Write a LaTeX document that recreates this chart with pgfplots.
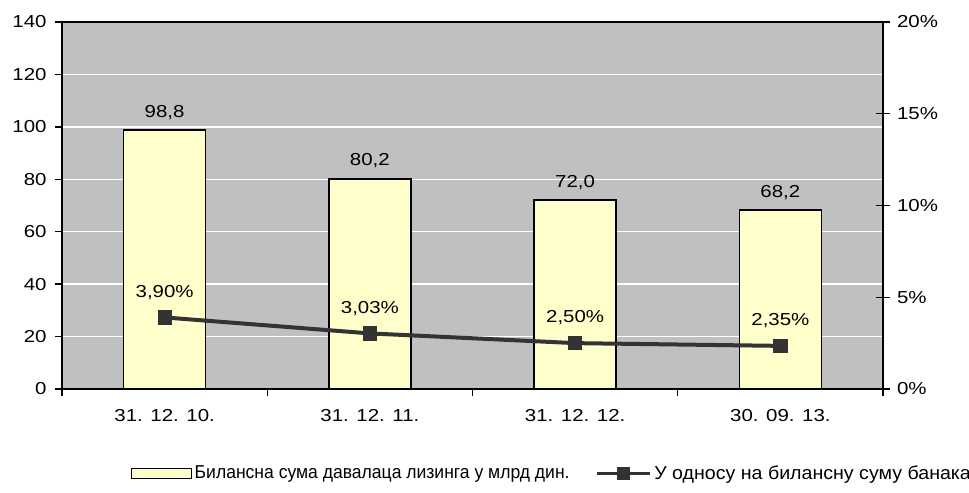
\documentclass[border=0pt]{standalone}
\usepackage{fontspec}
\setmainfont{Liberation Sans}
\newfontfamily\lblfont[FakeStretch=1.18]{Liberation Sans}
\newfontfamily\legfont[FakeStretch=0.94]{Liberation Sans}
\newfontfamily\legfontB[FakeStretch=1.05]{Liberation Sans}
\usepackage{pgfplots}
\pgfplotsset{compat=1.18}
\definecolor{bgc}{HTML}{C0C0C0}
\definecolor{barc}{HTML}{FFFFCC}
\definecolor{linec}{HTML}{333333}
\newcommand{\fs}{\lblfont\fontsize{13pt}{15pt}\selectfont}
\newcommand{\fl}{\legfont\fontsize{14pt}{16pt}\selectfont}
\begin{document}
\begin{tikzpicture}
\path[use as bounding box] (-46.5pt,-77.25pt) rectangle (680.25pt,291.75pt);
\begin{axis}[
  at={(0,0)}, anchor=south west,
  scale only axis, width=615.75pt, height=275.25pt,
  xmin=-0.5, xmax=3.5, ymin=0, ymax=140,
  ytick={0,20,...,140},
  ytick pos=left, xtick pos=bottom,
  tick align=outside,
  axis background/.style={fill=bgc},
  ymajorgrids, grid style={white, line width=1pt},
  axis line style={line width=1.4pt},
  major tick length=5pt,
  tick style={black, line width=1pt},
  xtick={0,1,2,3},
  xticklabels={31. 12. 10., 31. 12. 11., 31. 12. 12., 30. 09. 13.},
  major x tick style={draw=none},
  minor xtick={-0.5,0.5,1.5,2.5,3.5},
  minor tick length=5pt,
  minor x tick style={black, line width=1pt},
  font=\fs,
  ticklabel style={font=\fs},
  /pgf/number format/assume math mode=true,
  xticklabel style={yshift=-7pt},
  yticklabel style={xshift=-3pt},
]
\addplot[ybar, bar width=0.4, fill=barc, draw=black, line width=1.2pt,
  nodes near coords,
  nodes near coords style={font=\fs, black, yshift=4pt,
    /pgf/number format/.cd, fixed, fixed zerofill, precision=1, use comma, assume math mode=true}]
  coordinates {(0,98.8) (1,80.2) (2,72.0) (3,68.2)};
\end{axis}
\begin{axis}[
  at={(0,0)}, anchor=south west,
  scale only axis, width=615.75pt, height=275.25pt,
  xmin=-0.5, xmax=3.5, ymin=0, ymax=20,
  axis y line*=right, axis x line=none,
  ytick={0,5,10,15,20},
  yticklabel={\pgfmathprintnumber{\tick}\%},
  tick align=center,
  major tick length=10pt,
  tick style={black, line width=1pt},
  axis line style={line width=1.4pt},
  ticklabel style={font=\fs},
  /pgf/number format/assume math mode=true,
  yticklabel style={xshift=2pt},
  legend columns=2,
  legend style={draw=none, fill=none, at={(0.597,-0.23)}, anchor=center,
    font=\fl,
    /tikz/every even column/.append style={column sep=17pt}},
]
\addlegendimage{legend image code/.code={\draw[fill=barc, draw=black, line width=1pt] (0pt,-3.75pt) rectangle (45pt,3.75pt);}}
\addlegendentry{Билансна сума давалаца лизинга у млрд дин.}
\addplot[color=linec, line width=3pt, mark=square*, mark size=5pt,
  mark options={line width=0.5pt},
  legend image code/.code={\draw[linec, line width=2.5pt] (0pt,0pt) -- (40pt,0pt); \fill[linec] (16.5pt,-3.3pt) rectangle (23.5pt,3.3pt);},
  nodes near coords={\pgfmathprintnumber{\pgfplotspointmeta}\%},
  nodes near coords style={font=\fs, black, yshift=10pt,
    /pgf/number format/.cd, fixed, fixed zerofill, precision=2, use comma, assume math mode=true}]
  coordinates {(0,3.90) (1,3.03) (2,2.50) (3,2.35)};
\addlegendentry{\legfontB\fontsize{14pt}{16pt}\selectfont У односу на билансну суму банака}
\end{axis}
\end{tikzpicture}
\end{document}
